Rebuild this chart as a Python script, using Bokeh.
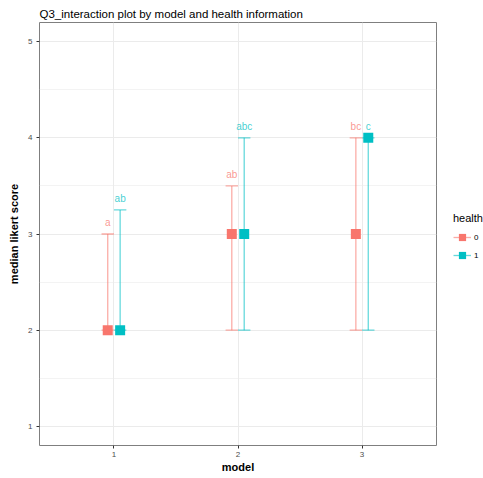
from bokeh.plotting import figure
from bokeh.models import ColumnDataSource, FixedTicker, Legend, LegendItem
from bokeh.transform import dodge
from bokeh.core.properties import value
from bokeh.embed import file_html
from bokeh.resources import INLINE

# data
models = [1, 2, 3]
median_h0 = [2, 3, 3]
lower_h0 = [2, 2, 2]
upper_h0 = [3, 3.5, 4]
letters_h0 = ["a", "ab", "bc"]
median_h1 = [2, 3, 4]
lower_h1 = [2, 2, 2]
upper_h1 = [3.25, 4, 4]
letters_h1 = ["ab", "abc", "c"]
y_ticks = [1, 2, 3, 4, 5]

RED = "#F8766D"
CYAN = "#00BFC4"
FONT = "Liberation Sans"

p = figure(frame_width=397, frame_height=423, x_range=(0.4, 3.6), y_range=(0.8, 5.2),
           output_backend="svg", toolbar_location=None,
           min_border_left=39, min_border_right=46, min_border_top=22, min_border_bottom=0)
p.background_fill_color = "white"
p.border_fill_color = "white"
p.outline_line_color = "#7f7f7f"
p.outline_line_width = 1

p.title.text = "Q3_interaction plot by model and health information"
p.title.text_font = FONT
p.title.text_font_size = "11.5px"
p.title.text_font_style = "normal"
p.title.text_color = "#000000"
p.title.offset = 0
p.title.standoff = 6

for ax in (p.xaxis[0], p.yaxis[0]):
    ax.axis_line_color = None
    ax.major_tick_in = 0
    ax.major_tick_out = 3
    ax.major_tick_line_color = "#333333"
    ax.minor_tick_line_color = None
    ax.major_label_text_font = FONT
    ax.major_label_text_font_size = "8px"
    ax.major_label_text_color = "#4d4d4d"
    ax.axis_label_text_font = FONT
    ax.axis_label_text_font_size = "11px"
    ax.axis_label_text_font_style = "bold"
    ax.axis_label_text_color = "#000000"
    ax.major_label_standoff = 3
    ax.axis_label_standoff = 1

p.yaxis[0].axis_label_standoff = 5
p.xaxis[0].ticker = FixedTicker(ticks=models)
p.xaxis[0].axis_label = "model"
p.yaxis[0].ticker = FixedTicker(ticks=y_ticks, minor_ticks=[1.5, 2.5, 3.5, 4.5])
p.yaxis[0].axis_label = "median likert score"
p.yaxis[0].major_label_orientation = "horizontal"

p.xgrid.grid_line_color = "#ebebeb"
p.ygrid.grid_line_color = "#ebebeb"
p.ygrid.minor_grid_line_color = "#ebebeb"
p.ygrid.minor_grid_line_width = 0.6

items = []
for label, med, lo, up, let, color, off in [
        ("0", median_h0, lower_h0, upper_h0, letters_h0, RED, -0.05),
        ("1", median_h1, lower_h1, upper_h1, letters_h1, CYAN, 0.05)]:
    src = ColumnDataSource(dict(model=models, median=med, lower=lo, upper=up, letter=let))
    bar = p.segment(x0=dodge("model", off), x1=dodge("model", off), y0="lower", y1="upper",
                    source=src, line_color=color, line_alpha=0.6, line_width=1.3)
    p.segment(x0=dodge("model", off - 0.05), x1=dodge("model", off + 0.05), y0="upper", y1="upper",
              source=src, line_color=color, line_alpha=0.6, line_width=1.3)
    p.segment(x0=dodge("model", off - 0.05), x1=dodge("model", off + 0.05), y0="lower", y1="lower",
              source=src, line_color=color, line_alpha=0.6, line_width=1.3)
    sq = p.scatter(x=dodge("model", off), y="median", source=src, marker="square", size=10,
                   fill_color=color, line_color=None)
    p.text(x=dodge("model", off), y="upper", text="letter", source=src,
           text_color=color, text_alpha=0.75, text_font=value(FONT), text_font_size="10px",
           text_align="center", text_baseline="bottom", y_offset=-6)
    items.append(LegendItem(label=label, renderers=[bar, sq]))

legend = Legend(items=items, title="health", location=(17, 181))
legend.title_text_font = FONT
legend.title_text_font_size = "11px"
legend.title_text_font_style = "normal"
legend.title_text_color = "#000000"
legend.label_text_font = FONT
legend.label_text_font_size = "8px"
legend.label_text_color = "#000000"
legend.border_line_color = None
legend.background_fill_alpha = 0
legend.glyph_width = 18
legend.glyph_height = 18
legend.label_standoff = 3
legend.spacing = 0
legend.padding = 2
legend.margin = 3
legend.title_standoff = 4
p.add_layout(legend, "right")

open("out.html", "w").write(file_html(p, INLINE))
